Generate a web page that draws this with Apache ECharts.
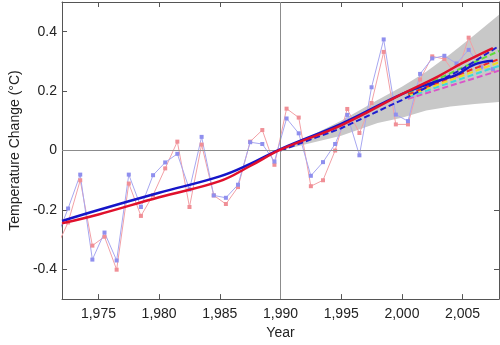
<!DOCTYPE html>
<html><head><meta charset="utf-8">
<script src="https://cdn.jsdelivr.net/npm/echarts@6/dist/echarts.min.js"></script>
<style>html,body{margin:0;padding:0;background:#fff}#c{width:500px;height:345px}</style>
</head><body><div id="c"></div>
<script>
// Annual observations (mid-year)
const obsYears = [1971.5,1972.5,1973.5,1974.5,1975.5,1976.5,1977.5,1978.5,1979.5,1980.5,1981.5,1982.5,1983.5,1984.5,1985.5,1986.5,1987.5,1988.5,1989.5,1990.5,1991.5,1992.5,1993.5,1994.5,1995.5,1996.5,1997.5,1998.5,1999.5,2000.5,2001.5,2002.5,2003.5,2004.5,2005.5,2006.5,2007.5];
const obsBlue = [-0.30,-0.195,-0.081,-0.367,-0.276,-0.37,-0.081,-0.19,-0.083,-0.04,-0.011,-0.131,0.046,-0.151,-0.159,-0.115,0.028,0.022,-0.037,0.108,0.058,-0.085,-0.039,0.022,0.12,-0.016,0.213,0.374,0.121,0.099,0.258,0.31,0.319,0.293,0.339,0.28,0.274];
const obsRed = [-0.33,-0.242,-0.10,-0.32,-0.29,-0.401,-0.111,-0.22,-0.15,-0.06,0.03,-0.19,0.02,-0.151,-0.18,-0.123,0.03,0.069,-0.048,0.141,0.111,-0.12,-0.10,0.0,0.14,0.059,0.16,0.332,0.088,0.088,0.239,0.317,0.308,0.252,0.38,0.285,0.27];
// Smoothed trends
const blueTrendYears = [1972,1975,1980,1985,1987.5,1990,1995,2000,2003,2004.5,2006,2007.5];
const blueTrend = [-0.237,-0.2,-0.142,-0.087,-0.045,0.005,0.09,0.19,0.235,0.255,0.29,0.302];
const redTrendYears = [1972,1975,1980,1985,1987.5,1990,1995,2000,2003,2005,2007.5];
const redTrend = [-0.245,-0.215,-0.157,-0.103,-0.052,0.003,0.085,0.19,0.25,0.295,0.345];
// Projection range (grey band)
const bandYears = [1990,1992,1995,1998,2000,2002,2004,2006,2008];
const bandLow = [0,0.02,0.05,0.093,0.11,0.135,0.148,0.157,0.163];
const bandHigh = [0,0.04,0.1,0.17,0.215,0.265,0.325,0.39,0.457];
// Projection scenarios
const projBlueYears = [1990,1995,2000,2005,2008];
const projBlue = [0,0.075,0.17,0.275,0.352];
const projYears = [2000.5,2008];
const projGreen = [0.195,0.335];
const projRed = [0.19,0.308];
const projYellow = [0.185,0.297];
const projCyan = [0.18,0.285];
const projMagenta = [0.174,0.269];
// Ticks
const xTicks = [1975,1980,1985,1990,1995,2000,2005];
const yTicks = [-0.4,-0.2,0,0.2,0.4];

const zip = (xs, ys) => xs.map((x, i) => [x, ys[i]]);
const axisCol = '#555';
const font = 'Liberation Sans, Arial, sans-serif';

function dashed(name, xs, ys, color) {
  return {name, type:'line', data: zip(xs, ys), symbol:'none', z:4,
    lineStyle:{color, width:2, type:[6,3]}};
}

const bandData = bandYears.map((x, i) => [x, bandLow[i], bandHigh[i]]);

const chart = echarts.init(document.getElementById('c'), null, {renderer:'canvas'});
chart.setOption({
  animation:false,
  backgroundColor:'#fff',
  grid:{left:48, right:1, top:2, bottom:43},
  xAxis:[{
    type:'value', min:1972, max:2008,
    name:'Year', nameLocation:'middle', nameGap:26,
    nameTextStyle:{fontSize:14, color:'#222', fontFamily:font},
    axisLine:{show:true, onZero:false, lineStyle:{color:axisCol, width:1}},
    axisTick:{show:true, inside:true, length:5, customValues:xTicks, lineStyle:{color:axisCol}},
    axisLabel:{customValues:xTicks, fontSize:14, color:'#222', margin:8, fontFamily:font},
    splitLine:{show:false}
  },{
    type:'value', min:1972, max:2008, position:'top',
    axisLine:{show:true, onZero:false, lineStyle:{color:axisCol, width:1}},
    axisTick:{show:true, inside:true, length:5, customValues:xTicks, lineStyle:{color:axisCol}},
    axisLabel:{show:false}, splitLine:{show:false}
  }],
  yAxis:[{
    type:'value', min:-0.5, max:0.5,
    name:'Temperature Change (°C)', nameLocation:'middle', nameGap:33,
    nameTextStyle:{fontSize:14, color:'#222', fontFamily:font},
    axisLine:{show:true, onZero:false, lineStyle:{color:axisCol, width:1}},
    axisTick:{show:true, inside:true, length:5, customValues:yTicks, lineStyle:{color:axisCol}},
    axisLabel:{customValues:yTicks, fontSize:14, color:'#222', margin:5, fontFamily:font,
      formatter: v => (Math.abs(v) < 1e-9 ? '0' : String(+v.toFixed(1)))},
    splitLine:{show:false}
  },{
    type:'value', min:-0.5, max:0.5, position:'right',
    axisLine:{show:true, onZero:false, lineStyle:{color:axisCol, width:1}},
    axisTick:{show:true, inside:true, length:5, customValues:yTicks, lineStyle:{color:axisCol}},
    axisLabel:{show:false}, splitLine:{show:false}
  }],
  series:[
    {type:'custom', name:'band', data: bandData, z:1, silent:true,
      encode:{x:0, y:[1,2]},
      renderItem:function(params, api){
        if (params.dataIndex !== 0) return null;
        const top = [], bot = [];
        for (let i = 0; i < bandData.length; i++) {
          top.push(api.coord([bandData[i][0], bandData[i][2]]));
          bot.push(api.coord([bandData[i][0], bandData[i][1]]));
        }
        return {type:'polygon', shape:{points: top.concat(bot.reverse())},
          style:{fill:'#c8c8c8', stroke:null}};
      }},
    {type:'line', name:'refs', data:[], z:2, silent:true,
      markLine:{silent:true, symbol:'none', label:{show:false},
        lineStyle:{color:'#8c8c8c', width:1, type:'solid'},
        data:[{xAxis:1990},{yAxis:0}]}},
    {type:'line', name:'obsRed', data: zip(obsYears, obsRed), symbol:'rect', symbolSize:4, z:3,
      lineStyle:{color:'#f2a0a6', width:1}, itemStyle:{color:'#f08f96'}},
    {type:'line', name:'obsBlue', data: zip(obsYears, obsBlue), symbol:'rect', symbolSize:4, z:3,
      lineStyle:{color:'#a7a7f0', width:1}, itemStyle:{color:'#8f8fee'}},
    dashed('magenta', projYears, projMagenta, '#d955c8'),
    dashed('cyan', projYears, projCyan, '#3fd8d8'),
    dashed('yellow', projYears, projYellow, '#f0dc20'),
    dashed('red', projYears, projRed, '#ee2a2a'),
    dashed('green', projYears, projGreen, '#5fdc3c'),
    dashed('blue', projBlueYears, projBlue, '#1f1fcf'),
    {type:'line', name:'blueTrend', data: zip(blueTrendYears, blueTrend), symbol:'none', smooth:0.4, z:5,
      lineStyle:{color:'#1515c8', width:2.5}},
    {type:'line', name:'redTrend', data: zip(redTrendYears, redTrend), symbol:'none', smooth:0.4, z:6,
      lineStyle:{color:'#e0102c', width:2.5}}
  ]
});
</script></body></html>
